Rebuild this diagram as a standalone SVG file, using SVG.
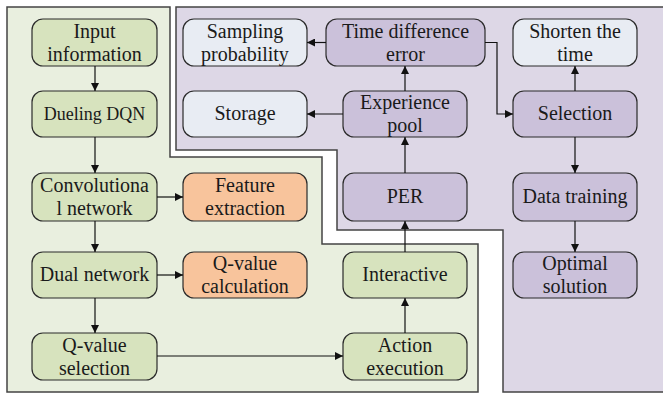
<svg xmlns="http://www.w3.org/2000/svg" width="663" height="395" viewBox="0 0 663 395" font-family="Liberation Serif, 'Times New Roman', serif" font-size="20">
<style>
.region{stroke:#444;stroke-width:1.5}
.n rect{stroke:#2b2b2b;stroke-width:1.2}
.n text{fill:#1a1a1a;text-anchor:middle}
.g rect{fill:#d7e3be}
.o rect{fill:#f8c49c}
.p rect{fill:#cbc1da}
.b rect{fill:#e8ecf3}
.c{stroke:#111;stroke-width:1.2;fill:none;marker-end:url(#ah)}
</style>
<defs>
<marker id="ah" viewBox="0 0 10 10" refX="10" refY="5" markerWidth="8" markerHeight="8" markerUnits="userSpaceOnUse" orient="auto">
<path d="M0,0 L10,5 L0,10 z" fill="#111"/>
</marker>
</defs>
<rect width="663" height="395" fill="#fff"/>
<g id="green-region">
<path class="region" fill="#e9efdf" d="M7,7 H170 V157 H322 V244 H478 V392 H7 Z"/>
</g>
<g id="purple-region">
<path class="region" fill="#ddd7e6" d="M176,7 H665 V392 H503 V230 H337 V150 H176 Z"/>
</g>
<g id="input" class="n g"><rect x="32" y="19" width="125" height="47" rx="11"/><text x="94.5" y="37.5">Input</text><text x="94.5" y="60.5">information</text></g>
<g id="dueling" class="n g"><rect x="32" y="91" width="125" height="46" rx="11"/><text x="94.5" y="120" font-size="18">Dueling DQN</text></g>
<g id="conv" class="n g"><rect x="32" y="173" width="125" height="48" rx="11"/><text x="94.5" y="192">Convolutiona</text><text x="94.5" y="215">l network</text></g>
<g id="dual" class="n g"><rect x="32" y="252" width="125" height="46" rx="11"/><text x="94.5" y="281">Dual network</text></g>
<g id="qsel" class="n g"><rect x="32" y="333" width="125" height="47" rx="11"/><text x="94.5" y="351.5">Q-value</text><text x="94.5" y="374.5">selection</text></g>
<g id="feature" class="n o"><rect x="183" y="173" width="124" height="48" rx="11"/><text x="245" y="192">Feature</text><text x="245" y="215">extraction</text></g>
<g id="qcalc" class="n o"><rect x="183" y="252" width="124" height="46" rx="11"/><text x="245" y="270">Q-value</text><text x="245" y="293">calculation</text></g>
<g id="sampling" class="n b"><rect x="183" y="19" width="124" height="47" rx="11"/><text x="245" y="37.5">Sampling</text><text x="245" y="60.5">probability</text></g>
<g id="storage" class="n b"><rect x="183" y="91" width="124" height="46" rx="11"/><text x="245" y="120">Storage</text></g>
<g id="tde" class="n p"><rect x="326" y="19" width="159" height="47" rx="11"/><text x="405.5" y="37.5">Time difference</text><text x="405.5" y="60.5">error</text></g>
<g id="exp" class="n p"><rect x="343" y="91" width="124" height="46" rx="11"/><text x="405" y="109">Experience</text><text x="405" y="132">pool</text></g>
<g id="per" class="n p"><rect x="343" y="173" width="124" height="48" rx="11"/><text x="405" y="203">PER</text></g>
<g id="interactive" class="n g"><rect x="343" y="252" width="124" height="46" rx="11"/><text x="405" y="281">Interactive</text></g>
<g id="action" class="n g"><rect x="343" y="333" width="124" height="47" rx="11"/><text x="405" y="351.5">Action</text><text x="405" y="374.5">execution</text></g>
<g id="shorten" class="n b"><rect x="513" y="19" width="124" height="47" rx="11"/><text x="575" y="37.5">Shorten the</text><text x="575" y="60.5">time</text></g>
<g id="selection" class="n p"><rect x="513" y="91" width="124" height="46" rx="11"/><text x="575" y="120">Selection</text></g>
<g id="training" class="n p"><rect x="513" y="173" width="124" height="48" rx="11"/><text x="575" y="203">Data training</text></g>
<g id="optimal" class="n p"><rect x="513" y="252" width="124" height="46" rx="11"/><text x="575" y="270">Optimal</text><text x="575" y="293">solution</text></g>
<g id="connectors">
<path class="c" d="M95,66 V91"/>
<path class="c" d="M95,137 V173"/>
<path class="c" d="M95,221 V252"/>
<path class="c" d="M95,298 V333"/>
<path class="c" d="M157,197 H183"/>
<path class="c" d="M157,275 H183"/>
<path class="c" d="M157,356 H343"/>
<path class="c" d="M405,333 V298"/>
<path class="c" d="M405,252 V221"/>
<path class="c" d="M405,173 V137"/>
<path class="c" d="M405,91 V66"/>
<path class="c" d="M343,114 H307"/>
<path class="c" d="M326,42.5 H307"/>
<path class="c" d="M485,42.5 H497 V114 H513"/>
<path class="c" d="M575,91 V66"/>
<path class="c" d="M575,137 V173"/>
<path class="c" d="M575,221 V252"/>
</g>
</svg>
